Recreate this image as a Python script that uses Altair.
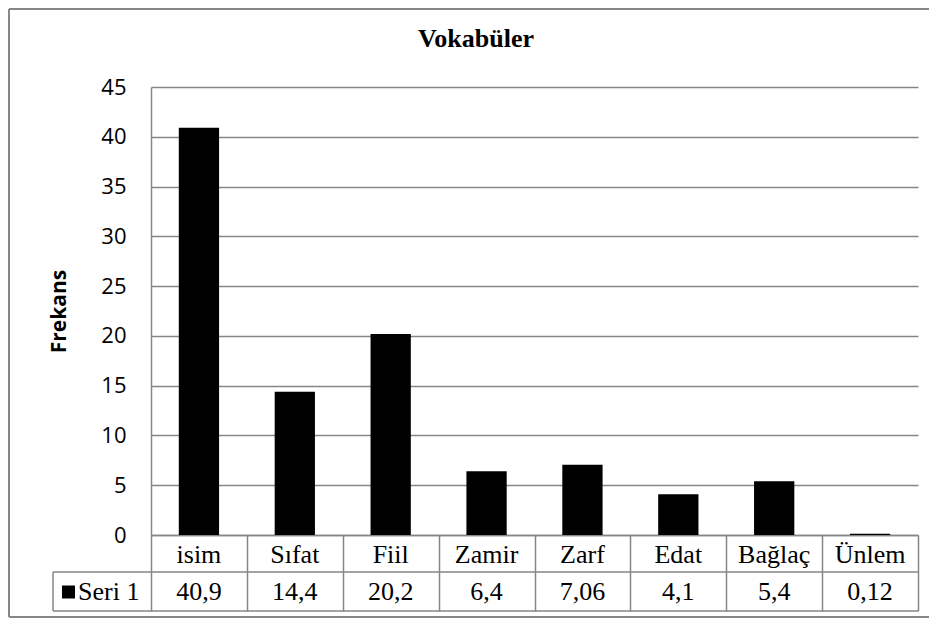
import altair as alt
import pandas as pd

# ---- data ----
categories = ["isim", "Sıfat", "Fiil", "Zamir", "Zarf", "Edat", "Bağlaç", "Ünlem"]
values = [40.9, 14.4, 20.2, 6.4, 7.06, 4.1, 5.4, 0.12]
y_ticks = [0, 5, 10, 15, 20, 25, 30, 35, 40, 45]
series_name = "Seri 1"
chart_title = "Vokabüler"
y_title = "Frekans"

df = pd.DataFrame({"cat": categories, "value": values})
df["label"] = [str(v).replace(".", ",") for v in values]

GRAY = "#868686"
SERIF = "Times New Roman"
SANS = "Open Sans"
W, H = 767, 448

x_enc = alt.X(
    "cat:N",
    sort=categories,
    scale=alt.Scale(paddingInner=0, paddingOuter=0),
    axis=alt.Axis(
        title=None,
        labels=False,
        ticks=True,
        tickBand="extent",
        tickSize=76,
        tickColor=GRAY,
        tickWidth=1.5,
        domain=True,
        domainColor=GRAY,
        domainWidth=1.5,
        grid=False,
    ),
)

base = alt.Chart(df)

bars = base.mark_bar(color="black", width=alt.RelativeBandSize(0.42)).encode(
    x=x_enc,
    y=alt.Y(
        "value:Q",
        scale=alt.Scale(domain=[0, 45], nice=False),
        axis=alt.Axis(
            values=y_ticks,
            grid=True,
            gridColor=GRAY,
            gridWidth=1.5,
            domain=True,
            domainColor=GRAY,
            domainWidth=1.5,
            ticks=False,
            labelPadding=25,
            labelFont=SANS,
            labelFontSize=22,
            labelColor="black",
            title=y_title,
            titleFont=SANS,
            titleFontSize=21,
            titleFontWeight="bold",
            titleColor="black",
            titleX=-92,
            titleY=H / 2,
            titleAngle=270,
            titleAlign="center",
            titleBaseline="middle",
        ),
    ),
)

cat_text = base.mark_text(
    font=SERIF, fontSize=26, color="black", baseline="alphabetic"
).encode(x=x_enc, y=alt.value(475.5), text="cat:N")

val_text = base.mark_text(
    font=SERIF, fontSize=26, color="black", baseline="alphabetic"
).encode(x=x_enc, y=alt.value(513), text="label:N")

one = alt.Data(values=[{"name": series_name, "title": chart_title}])

row_line = alt.Chart(one).mark_rule(color=GRAY, strokeWidth=1.5).encode(
    x=alt.value(-98), x2=alt.value(W), y=alt.value(485)
)
bottom_line = alt.Chart(one).mark_rule(color=GRAY, strokeWidth=1.5).encode(
    x=alt.value(-98), x2=alt.value(W), y=alt.value(524)
)
left_line = alt.Chart(one).mark_rule(color=GRAY, strokeWidth=1.5).encode(
    x=alt.value(-98), y=alt.value(485), y2=alt.value(524)
)

key_square = alt.Chart(one).mark_square(color="black", size=169, opacity=1).encode(
    x=alt.value(-82.5), y=alt.value(505)
)
key_text = alt.Chart(one).mark_text(
    font=SERIF, fontSize=26, color="black", align="left", baseline="alphabetic"
).encode(x=alt.value(-73), y=alt.value(513), text="name:N")

title_text = alt.Chart(one).mark_text(
    font=SERIF, fontSize=26, fontWeight="bold", color="black", baseline="alphabetic"
).encode(x=alt.value(325), y=alt.value(-40.5), text="title:N")

b_left = alt.Chart(one).mark_rule(color=GRAY, strokeWidth=2).encode(
    x=alt.value(-142), y=alt.value(-78), y2=alt.value(530)
)
b_top = alt.Chart(one).mark_rule(color=GRAY, strokeWidth=2).encode(
    x=alt.value(-142), x2=alt.value(780), y=alt.value(-78)
)
b_bottom = alt.Chart(one).mark_rule(color=GRAY, strokeWidth=2).encode(
    x=alt.value(-142), x2=alt.value(780), y=alt.value(530)
)

chart = (
    alt.layer(
        bars, cat_text, val_text, row_line, bottom_line, left_line,
        key_square, key_text, title_text, b_left, b_top, b_bottom,
    )
    .properties(
        width=W,
        height=H,
        autosize=alt.AutoSizeParams(type="none"),
        padding={"left": 143, "top": 79, "right": 11, "bottom": 83},
        background="white",
    )
    .configure_view(stroke=None)
)

chart.save("out.html", embed_options={"renderer": "svg", "actions": False})
